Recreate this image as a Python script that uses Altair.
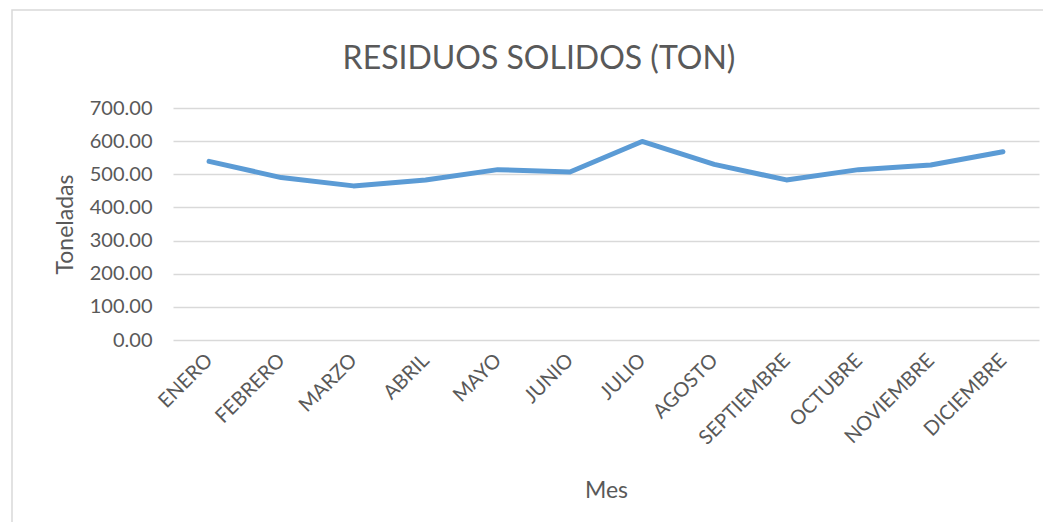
import altair as alt
import pandas as pd

meses = ["ENERO", "FEBRERO", "MARZO", "ABRIL", "MAYO", "JUNIO", "JULIO",
         "AGOSTO", "SEPTIEMBRE", "OCTUBRE", "NOVIEMBRE", "DICIEMBRE"]
toneladas = [539, 490, 465, 483, 514, 507, 599, 530, 483, 514, 528, 568]
y_ticks = [0, 100, 200, 300, 400, 500, 600, 700]

df = pd.DataFrame({"Mes": meses, "Toneladas": toneladas})

FONT = "Lato"
GREY = "#595959"

# chart-area frame (decoration only)
frame = alt.Chart(pd.DataFrame({"a": [0]})).mark_rect(
    fillOpacity=0, stroke="#d9d9d9", strokeWidth=1.5
).encode(
    x=alt.value(-161), x2=alt.value(900), y=alt.value(-98), y2=alt.value(450)
)

line = alt.Chart(df).mark_line(
    color="#5B9BD5", strokeWidth=5, strokeCap="round", strokeJoin="round"
).encode(
    x=alt.X("Mes:N", sort=meses, scale=alt.Scale(type="point", padding=0.5),
            axis=alt.Axis(title="Mes", labelAngle=-45, labelAlign="right",
                          labelBaseline="middle", labelPadding=17,
                          labelFontSize=20, labelColor=GREY, labelFont=FONT,
                          ticks=False, domain=False, grid=False,
                          titleFontSize=23, titleFont=FONT, titleColor=GREY,
                          titleFontWeight="normal", titleY=157,
                          titleBaseline="alphabetic")),
    y=alt.Y("Toneladas:Q", scale=alt.Scale(domain=[0, 700], nice=False),
            axis=alt.Axis(title="Toneladas", values=y_ticks, format=".2f",
                          labelFontSize=20, labelColor=GREY, labelFont=FONT,
                          labelPadding=21, ticks=False, domain=False,
                          grid=True, gridColor="#d9d9d9", gridWidth=1.5,
                          titleFontSize=23, titleFont=FONT, titleColor=GREY,
                          titleFontWeight="normal", titleX=-101,
                          titleBaseline="alphabetic")),
)

chart = alt.layer(frame, line).properties(
    width=866, height=232,
    title=alt.TitleParams(
        "RESIDUOS SOLIDOS (TON)", font=FONT, fontSize=32,
        fontWeight="normal", color=GREY, anchor="middle", dx=-67, dy=120,
        frame="group", baseline="alphabetic", offset=28
    ),
    autosize=alt.AutoSizeParams(type="none"),
    padding={"left": 165, "top": 100, "right": 4, "bottom": 182},
    background="white",
).configure_view(stroke=None)

chart.save("out.html", embed_options={"renderer": "svg", "actions": False})
